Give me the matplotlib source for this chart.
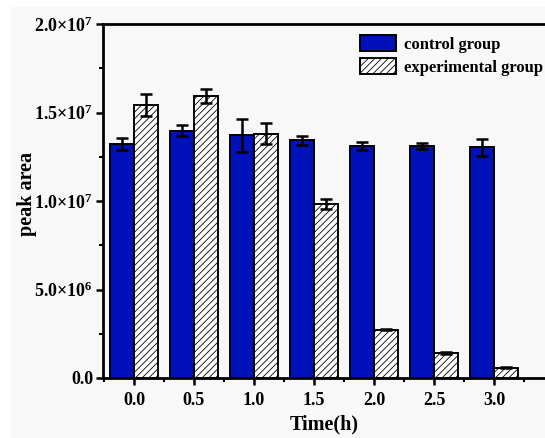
import numpy as np
import matplotlib
matplotlib.use("Agg")
from matplotlib import pyplot as plt
from matplotlib.patches import Rectangle
from matplotlib.ticker import FixedLocator, FuncFormatter

plt.rcParams['font.family'] = 'Liberation Serif'
plt.rcParams['font.weight'] = 'bold'
plt.rcParams['mathtext.fontset'] = 'custom'
plt.rcParams['mathtext.rm'] = 'Liberation Serif:bold'
plt.rcParams['mathtext.bf'] = 'Liberation Serif:bold'
plt.rcParams['mathtext.default'] = 'bf'
plt.rcParams['hatch.color'] = '#9a9a9a'
plt.rcParams['hatch.linewidth'] = 0.6

# data
times = [0.0, 0.5, 1.0, 1.5, 2.0, 2.5, 3.0]
control = [1.322e7, 1.397e7, 1.371e7, 1.343e7, 1.312e7, 1.311e7, 1.303e7]
control_err = [3.6e5, 3.1e5, 9.3e5, 2.5e5, 2.3e5, 1.7e5, 4.8e5]
experimental = [1.542e7, 1.593e7, 1.380e7, 9.83e6, 2.73e6, 1.41e6, 5.9e5]
experimental_err = [6.3e5, 4.0e5, 6.0e5, 3.0e5, 4e4, 8e4, 3e4]

bg = '#f8f8f8'
fig = plt.figure(figsize=(5.45, 4.38), dpi=100, facecolor='white')
# grey panel behind everything, thin white strip on the left and top
fig.patches.append(Rectangle((11/545, 0), 1, 1 - 7/438, transform=fig.transFigure,
                             facecolor=bg, edgecolor='none', zorder=-10))
ax = fig.add_axes([0.189, 0.137, 0.811, 0.808], facecolor=bg)

x = np.array(times)
w = 0.2
ax.bar(x - w/2, control, w, color='#0010bb', edgecolor='black', linewidth=1.4,
       label='control group')
ax.bar(x + w/2, experimental, w, color='white', edgecolor='black', linewidth=1.4,
       hatch='/////', label='experimental group')
ax.errorbar(x - w/2, control, yerr=control_err, fmt='none', ecolor='black',
            elinewidth=1.8, capsize=4, capthick=1.8)
ax.errorbar(x + w/2, experimental, yerr=experimental_err, fmt='none', ecolor='black',
            elinewidth=1.8, capsize=4, capthick=1.8)

ax.set_xlim(-0.258, 3.425)
ax.set_ylim(0, 2.0e7)

ax.set_xticks(times)
ax.set_xticklabels(['%.1f' % t for t in times])
ax.xaxis.set_minor_locator(FixedLocator(np.arange(-0.25, 3.3, 0.5)))
ax.set_yticks([0, 5e6, 1e7, 1.5e7, 2e7])
ax.yaxis.set_minor_locator(FixedLocator([2.5e6, 7.5e6, 1.25e7, 1.75e7]))


def sci(v, pos):
    if v == 0:
        return '0.0'
    e = int(np.floor(np.log10(v)))
    return '%.1f×10$^{%d}$' % (v / 10**e, e)


ax.yaxis.set_major_formatter(FuncFormatter(sci))

ax.tick_params(which='major', direction='out', length=5, width=1.8, labelsize=13)
ax.tick_params(which='minor', direction='out', length=3, width=1.5)
ax.tick_params(axis='x', pad=5)
ax.tick_params(axis='y', pad=2)

for s in ['left', 'bottom', 'top']:
    ax.spines[s].set_linewidth(2)
ax.spines['right'].set_visible(False)

ax.set_xlabel('Time(h)', fontsize=14.5, fontweight='bold')
ax.set_ylabel('peak area', fontsize=14.5, fontweight='bold')
ax.xaxis.set_label_coords(0.5, -0.104)
ax.yaxis.set_label_coords(-0.172, 0.52)
ax.xaxis.label.set_verticalalignment('top')
ax.yaxis.label.set_verticalalignment('center')

leg = ax.legend(loc='upper left', bbox_to_anchor=(0.557, 1.0), frameon=False,
                fontsize=12, handlelength=2.15, handleheight=1.15, handletextpad=0.48,
                labelspacing=0.3, borderaxespad=0.25)

plt.savefig('out.png', dpi=100)
